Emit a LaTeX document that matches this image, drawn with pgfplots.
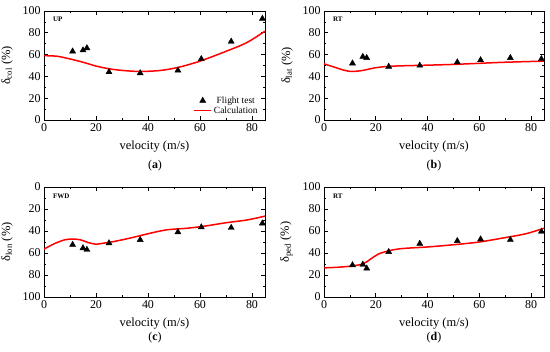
\documentclass[border=0pt]{standalone}
\usepackage{pgfplots}
\pgfplotsset{compat=1.18}
\usepackage{fontspec}
\setmainfont{Liberation Serif}

\pgfplotsset{
  panel/.style={
    scale only axis, width=221bp, height=109bp,
    xmin=0, xmax=85, ymin=0, ymax=100,
    xtick={0,20,...,80}, ytick={0,20,...,100},
    minor x tick num=1, minor y tick num=1,
    tick align=inside, major tick length=4bp, minor tick length=2bp,
    tick style={black, line width=0.6bp},
    axis line style={line width=0.8bp},
    /pgf/number format/assume math mode=true,
    ticklabel style={font=\fontsize{12}{14}\selectfont},
    label style={font=\fontsize{12.5}{14}\selectfont},
    xlabel={velocity (m/s)},
    xlabel style={yshift=-2bp},
    ylabel style={yshift=3bp},
  },
  flight/.style={only marks, mark=triangle*, mark size=3.5bp, black},
  calc/.style={red, line width=1.5bp, smooth, mark=none},
}

\begin{document}
\begin{tikzpicture}
\useasboundingbox (0bp,0bp) rectangle (550bp,352bp);

% (a)
\begin{axis}[panel, at={(44bp,232bp)}, anchor=south west,
  ylabel={δ\textsubscript{col} (\%)},
  legend style={at={(0.99,0.01)}, anchor=south east, draw=none, fill=none,
    font=\fontsize{9.5}{11}\selectfont, row sep=-2bp}]
\addplot[flight] coordinates {(11,63) (15,64) (16.5,66) (25,44) (37,43) (51.5,45.5) (60.5,56) (72,72) (84,93)};
\addlegendentry{Flight test}
\addplot[calc] coordinates {(0,59) (5,58.5) (10,56) (15,53) (20,49.5) (25,47) (30,45.5) (37,44.5) (45,45.5) (52,48.5) (60,54) (70,63) (78,71) (85,81.5)};
\addlegendentry{Calculation}
\node[anchor=west, font=\fontsize{7}{8}\selectfont\bfseries] at (rel axis cs:0.025,0.92) {UP};
\end{axis}

% (b)
\begin{axis}[panel, at={(324bp,232bp)}, anchor=south west, width=220bp,
  ylabel={δ\textsubscript{lat} (\%)}]
\addplot[flight] coordinates {(11,52) (15,58) (16.5,57) (25,49) (37,50) (51.5,53) (60.5,55) (72,57) (84,56)};
\addplot[calc] coordinates {(0,51.5) (4,48.5) (8,45.5) (11,44.5) (15,45.5) (20,48) (25,49.2) (30,49.7) (40,50.3) (50,51) (60,52) (70,53) (85,54)};
\node[anchor=west, font=\fontsize{7}{8}\selectfont\bfseries] at (rel axis cs:0.025,0.92) {RT};
\end{axis}

% (c)
\begin{axis}[panel, at={(44bp,55bp)}, anchor=south west, height=110bp, y dir=reverse,
  ylabel={δ\textsubscript{lon} (\%)}]
\addplot[flight] coordinates {(11,52.5) (15,55.5) (16.5,57) (25,51) (37,48) (51.5,41) (60.5,36.5) (72,37) (84,33)};
\addplot[calc] coordinates {(0,56.5) (4,51.5) (8,48) (11,47.3) (14,48) (17,50.5) (20,52) (23,51) (27,49.5) (33,46.5) (40,42.5) (47,39) (55,37.5) (62,35.5) (70,32.5) (78,30) (85,26.5)};
\node[anchor=west, font=\fontsize{7}{8}\selectfont\bfseries] at (rel axis cs:0.025,0.92) {FWD};
\end{axis}

% (d)
\begin{axis}[panel, at={(324bp,55bp)}, anchor=south west, width=220bp, height=110bp,
  ylabel={δ\textsubscript{ped} (\%)}]
\addplot[flight] coordinates {(11,29) (15,29.5) (16.5,26) (25,41) (37,48.5) (51.5,51) (60.5,52.5) (72,52) (84,59.5)};
\addplot[calc] coordinates {(0,26.5) (5,27) (10,28) (15,30) (18,34.5) (21,39) (25,42) (30,44) (40,45.5) (50,47.5) (60,50) (70,54) (78,57.5) (85,62.5)};
\node[anchor=west, font=\fontsize{7}{8}\selectfont\bfseries] at (rel axis cs:0.025,0.92) {RT};
\end{axis}

\node[font=\fontsize{12}{14}\selectfont] at (155bp,186bp) {(\textbf{a})};
\node[font=\fontsize{12}{14}\selectfont] at (434bp,186bp) {(\textbf{b})};
\node[font=\fontsize{12}{14}\selectfont] at (155bp,14bp) {(\textbf{c})};
\node[font=\fontsize{12}{14}\selectfont] at (434bp,14bp) {(\textbf{d})};
\end{tikzpicture}
\end{document}
